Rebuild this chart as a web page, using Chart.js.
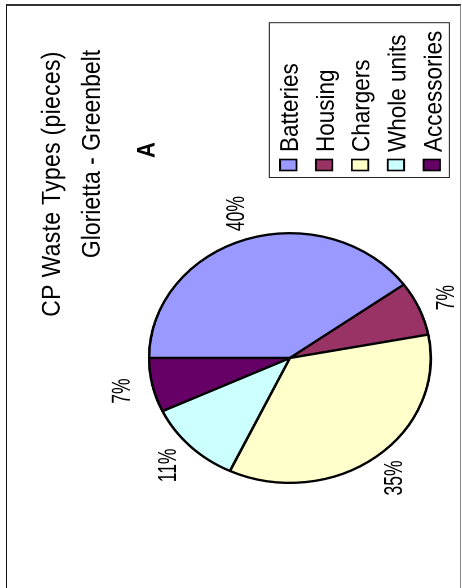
<!DOCTYPE html>
<html>
<head>
<meta charset="utf-8">
<script src="https://cdn.jsdelivr.net/npm/chart.js@4.4.1/dist/chart.umd.min.js"></script>
<style>
  html, body { margin: 0; padding: 0; background: #fff; width: 462px; height: 588px; overflow: hidden; }
  #frame {
    position: absolute; left: 6px; top: 4px; width: 453px; height: 640px;
    border-top: 2px solid #333; border-left: 1px solid #111; border-right: 1px solid #888;
    box-sizing: content-box;
  }
  /* the sheet is laid out landscape and turned a quarter turn to the left */
  #sheet {
    position: absolute; left: 0; top: 0; width: 588px; height: 410px;
    transform-origin: 0 0;
    transform: translate(0, 588px) rotate(-90deg) scaleY(1.128);
  }
</style>
</head>
<body>
<div id="frame"></div>
<div id="sheet"><canvas id="pie" width="588" height="410"></canvas></div>
<script>
const categories = ['Batteries', 'Housing', 'Chargers', 'Whole units', 'Accessories'];
const shares = [40, 7, 35, 11, 7];
const sliceColors = ['#9999FF', '#993366', '#FFFFCC', '#CCFFFF', '#660066'];
const titleLines = ['CP Waste Types (pieces)', 'Glorietta - Greenbelt', 'A'];

const FONT = '"Liberation Sans", Arial, sans-serif';

// titles, legend box and percentage labels
const decorations = {
  id: 'decorations',
  afterDraw(chart) {
    const ctx = chart.ctx;
    ctx.save();
    ctx.fillStyle = '#000';
    ctx.textBaseline = 'alphabetic';
    ctx.textAlign = 'center';

    // title block
    ctx.font = '23px ' + FONT;
    ctx.letterSpacing = '0.3px';
    ctx.fillText(titleLines[0], 404, 53);
    ctx.letterSpacing = '0px';
    ctx.fillText(titleLines[1], 434, 88.5);
    ctx.font = 'bold 22px ' + FONT;
    ctx.fillText(titleLines[2], 438, 137);

    // legend
    const lg = { left: 410.5, top: 238.8, right: 565.3, bottom: 398.4 };
    ctx.lineWidth = 1;
    ctx.strokeStyle = '#222';
    ctx.strokeRect(lg.left, lg.top, lg.right - lg.left, lg.bottom - lg.top);
    ctx.font = '22.5px ' + FONT;
    ctx.textAlign = 'left';
    categories.forEach((name, i) => {
      const cy = 255.6 + i * 31.8;
      ctx.fillStyle = sliceColors[i];
      ctx.fillRect(417.5, cy - 7.3, 11, 14.6);
      ctx.lineWidth = 1.6;
      ctx.strokeStyle = '#000';
      ctx.strokeRect(417.5, cy - 7.3, 11, 14.6);
      ctx.fillStyle = '#000';
      ctx.fillText(name, 436, cy + 8.5);
    });

    // percentage labels outside each slice
    const meta = chart.getDatasetMeta(0);
    const total = shares.reduce((s, v) => s + v, 0);
    ctx.font = '17.5px ' + FONT;
    ctx.textAlign = 'center';
    ctx.textBaseline = 'middle';
    meta.data.forEach((arc, i) => {
      const p = arc.getProps(['x', 'y', 'startAngle', 'endAngle', 'outerRadius'], true);
      const mid = (p.startAngle + p.endAngle) / 2;
      const r = p.outerRadius + 27;
      const lx = p.x + Math.cos(mid) * r;
      const ly = p.y + Math.sin(mid) * r;
      ctx.save();
      ctx.translate(lx, ly);
      ctx.scale(1, 1.3);
      ctx.fillText(Math.round(shares[i] / total * 100) + '%', 0, 0);
      ctx.restore();
    });
    ctx.restore();
  }
};

new Chart(document.getElementById('pie'), {
  type: 'pie',
  data: {
    labels: categories,
    datasets: [{
      data: shares,
      backgroundColor: sliceColors,
      borderColor: '#000',
      borderWidth: 2.3,
      hoverOffset: 0,
      offset: 0
    }]
  },
  options: {
    responsive: false,
    animation: false,
    devicePixelRatio: 2,
    layout: { padding: { left: 104, right: 232, top: 131, bottom: 27 } },
    plugins: {
      legend: { display: false },
      title: { display: false },
      tooltip: { enabled: false }
    }
  },
  plugins: [decorations]
});
</script>
</body>
</html>
